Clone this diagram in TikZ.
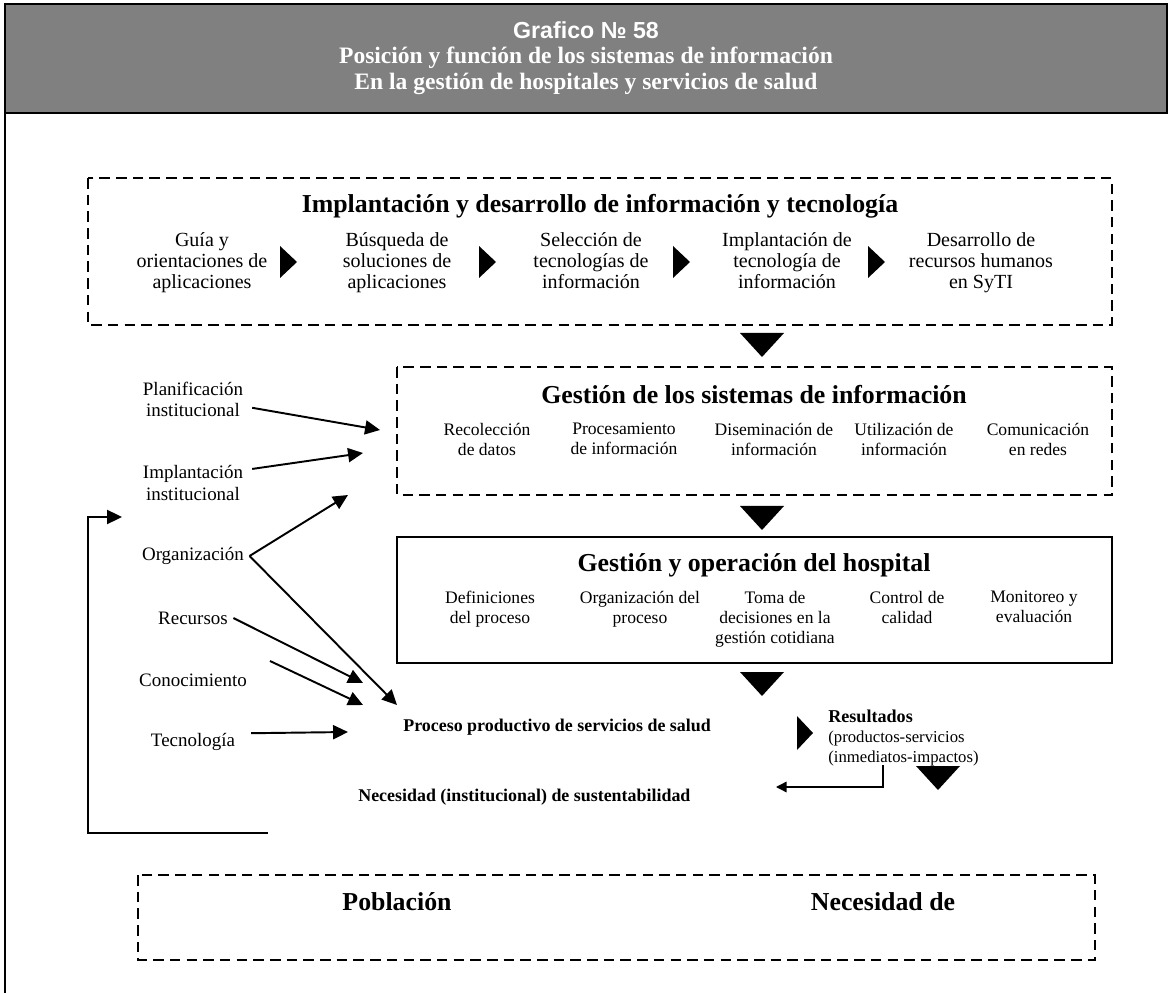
\documentclass[tikz,border=0pt]{standalone}
\usepackage{fontspec}
\setmainfont{Liberation Serif}
\newfontfamily\headsans{Liberation Sans}
\usetikzlibrary{arrows.meta,positioning}
\definecolor{headgray}{RGB}{128,128,128}

\begin{document}
\begin{tikzpicture}[
    x=0.02cm, y=-0.02cm,
    every node/.style={align=center},
    hdr/.style={font=\bfseries\fontsize{13.4}{15}\selectfont, text=white, inner sep=0pt},
    title/.style={font=\bfseries\fontsize{14.7}{16}\selectfont, inner sep=0pt},
    item/.style={font=\fontsize{11.4}{11.9}\selectfont, inner sep=0pt, anchor=north},
    subitem/.style={font=\fontsize{10}{11.3}\selectfont, inner sep=0pt, anchor=north},
    factor/.style={font=\fontsize{10.8}{12}\selectfont, inner sep=3pt},
    stage/.style={font=\bfseries\fontsize{10.2}{11}\selectfont, inner sep=0pt},
    dashbox/.style={draw, line width=1.1pt, dash pattern=on 6pt off 3.5pt},
    solidbox/.style={draw, line width=1.1pt},
    arrow/.style={line width=1.1pt, -{Triangle[length=8.5pt, width=8pt]}},
    thinarrow/.style={line width=0.8pt, -{Triangle[length=6pt, width=6pt]}}
]
\useasboundingbox (0,0) rectangle (1171,993);

% Header
\draw[line width=1.2pt, fill=headgray] (5,4) rectangle (1167,113);
\draw[line width=1.2pt] (5,113) -- (5,993);
\node[hdr, font=\headsans\bfseries\fontsize{13.2}{15}\selectfont] (numero) at (586,30) {Grafico № 58};
\node[hdr] (tit1) at (586,58) {Posición y función de los sistemas de información};
\node[hdr] (tit2) at (586,84) {En la gestión de hospitales y servicios de salud};

% Implantacion y desarrollo
\draw[dashbox] (88,178) rectangle (1112,325);
\node[title] (implTit) at (600,206) {Implantación y desarrollo de información y tecnología};
\node[item] (guia) at (202,232) {Guía y\\orientaciones de\\aplicaciones};
\node[item] (busqueda) at (397,232) {Búsqueda de\\soluciones de\\aplicaciones};
\node[item] (seleccion) at (591,232) {Selección de\\tecnologías de\\información};
\node[item] (implantacion) at (787,232) {Implantación de\\tecnología de\\información};
\node[item] (desarrollo) at (981,232) {Desarrollo de\\recursos humanos\\en SyTI};
\foreach \x in {280,479,673,868}
    \fill (\x,246) -- (\x+17,262) -- (\x,278) -- cycle;

% Gestion de los sistemas de informacion
\fill (740,333) -- (784,333) -- (762,357) -- cycle;
\draw[dashbox] (397,367) rectangle (1112,495);
\node[title] (sisTit) at (754,395) {Gestión de los sistemas de información};
\node[subitem] (recoleccion) at (487,423) {Recolección\\de datos};
\node[subitem] (procesamiento) at (624,423) {Procesamiento\\de información};
\node[subitem] (diseminacion) at (774,423) {Diseminación de\\información};
\node[subitem] (utilizacion) at (904,423) {Utilización de\\información};
\node[subitem] (comunicacion) at (1038,423) {Comunicación\\en redes};

% Gestion y operacion del hospital
\fill (740,506) -- (784,506) -- (762,530) -- cycle;
\draw[solidbox] (397,537) rectangle (1112,663);
\node[title] (hospTit) at (754,565) {Gestión y operación del hospital};
\node[subitem] (definiciones) at (490,591) {Definiciones\\del proceso};
\node[subitem] (organizacion) at (640,591) {Organización del\\proceso};
\node[subitem] (toma) at (775,591) {Toma de\\decisiones en la\\gestión cotidiana};
\node[subitem] (control) at (907,591) {Control de\\calidad};
\node[subitem] (monitoreo) at (1034,591) {Monitoreo y\\evaluación};
\fill (740,672) -- (784,672) -- (762,696) -- cycle;

% Proceso productivo y resultados
\node[stage, anchor=west] (proceso) at (403,727) {Proceso productivo de servicios de salud};
\fill (797,716) -- (813,733) -- (797,750) -- cycle;
\node[font=\fontsize{9.5}{11.3}\selectfont, inner sep=0pt, anchor=north west, align=left] (resultados) at (828,710)
    {{\fontsize{10.3}{11.3}\selectfont\bfseries Resultados}\\(productos-servicios\\(inmediatos-impactos)};
\fill (916,766) -- (960,766) -- (938,790) -- cycle;
\node[stage, anchor=west] (necesidad) at (358,797) {Necesidad (institucional) de sustentabilidad};
\coordinate (salida) at (883,765);
\coordinate (necIn) at (776,787);
\draw[thinarrow] (salida) |- (necIn);

% Factores de entrada
\node[factor] (planif) at (193,399) {Planificación\\institucional};
\node[factor] (implinst) at (193,483) {Implantación\\institucional};
\node[factor] (organiz) at (193,556) {Organización};
\node[factor] (recursos) at (193,618) {Recursos};
\node[factor] (conoc) at (193,680) {Conocimiento};
\node[factor] (tecno) at (193,742) {Tecnología};

\coordinate (planIn) at (380,430);
\coordinate (implIn) at (363,453);
\coordinate (orgIn) at (348,495);
\coordinate (orgOut) at (397,705);
\coordinate (recIn) at (363,683);
\coordinate (conIn) at (363,705);
\coordinate (tecIn) at (348,732);

\draw[arrow] ([xshift=2pt, yshift=-5pt]planif.east) -- (planIn);
\draw[arrow] ([xshift=2pt, yshift=-5pt]implinst.north east) -- (implIn);
\draw[arrow] (organiz.east) -- (orgIn);
\draw[arrow] (organiz.east) -- (orgOut);
\draw[arrow] (recursos.east) -- (recIn);
\draw[arrow] ([xshift=10pt, yshift=4pt]conoc.north east) -- (conIn);
\draw[arrow] ([xshift=6pt, yshift=5pt]tecno.east) -- (tecIn);

% Retroalimentacion
\coordinate (fbStart) at (268,833);
\coordinate (fbLow) at (88,833);
\coordinate (fbEnd) at (122,517);
\draw[arrow] (fbStart) -- (fbLow) |- (fbEnd);

% Poblacion
\draw[dashbox] (138,875) rectangle (1095,960);
\node[title] (poblacion) at (397,902) {Población};
\node[title] (necDe) at (883,902) {Necesidad de};

\end{tikzpicture}
\end{document}
